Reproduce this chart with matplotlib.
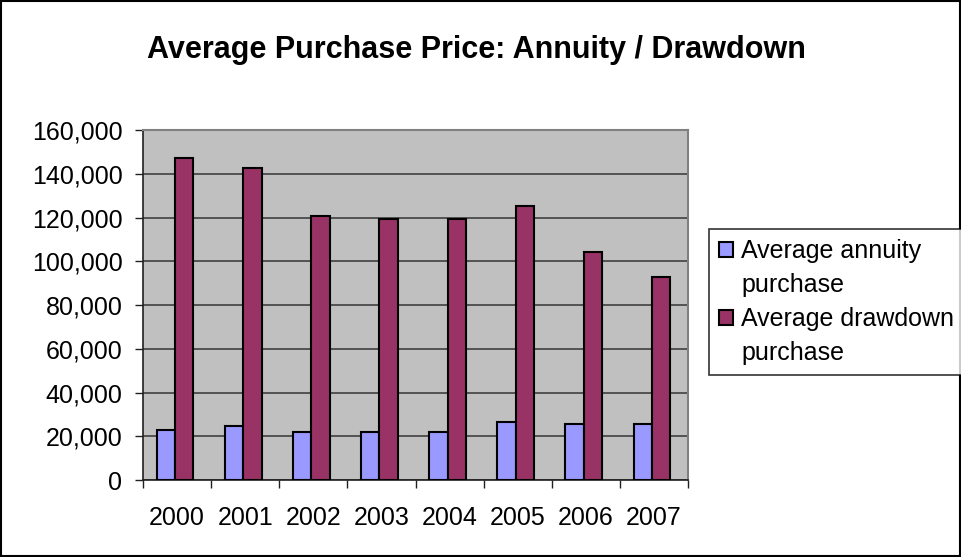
import numpy as np
import matplotlib
matplotlib.use("Agg")
import matplotlib.pyplot as plt
from matplotlib.patches import Rectangle

plt.rcParams['font.family'] = ['Liberation Sans', 'DejaVu Sans']

# data
years = ['2000', '2001', '2002', '2003', '2004', '2005', '2006', '2007']
annuity = [22900, 24800, 21900, 21900, 21900, 26500, 25600, 25600]
drawdown = [147300, 142800, 120700, 119200, 119200, 125400, 104400, 92800]
series_labels = [('Average annuity', 'purchase'), ('Average drawdown', 'purchase')]
y_ticks = [0, 20000, 40000, 60000, 80000, 100000, 120000, 140000, 160000]

fig = plt.figure(figsize=(9.62, 5.57), dpi=100)
ax = fig.add_axes([0.1487, 0.1382, 0.7152 - 0.1487, 0.7666 - 0.1382])

x = np.arange(len(years))
w = 0.27
b1 = ax.bar(x - w / 2 - 0.03, annuity, w, color='#9999FF', edgecolor='black', linewidth=1.5,
            zorder=3)
b2 = ax.bar(x + w / 2 - 0.03, drawdown, w, color='#993366', edgecolor='black', linewidth=1.5,
            zorder=3)

ax.set_facecolor('#C0C0C0')
ax.set_xlim(-0.5, len(years) - 0.5)
ax.set_ylim(0, 160000)
ax.set_yticks(y_ticks)
ax.set_yticklabels([f'{v:,}' for v in y_ticks], fontsize=18)
ax.yaxis.grid(True, color='#404040', linewidth=1.2, zorder=1)
ax.set_axisbelow(True)

# category labels centred, tick marks between categories
ax.set_xticks(x)
ax.set_xticklabels(years, fontsize=18)
ax.tick_params(axis='x', length=0, pad=19)
ax.set_xticks(np.arange(-0.5, len(years)), minor=True)
ax.tick_params(axis='x', which='minor', length=5.5, width=1, direction='out', color='#202020')
ax.tick_params(axis='y', length=5.8, width=1, direction='out', pad=9, color='#202020')

for s in ['top', 'right']:
    ax.spines[s].set_color('#808080')
    ax.spines[s].set_linewidth(1.5)
for s in ['left', 'bottom']:
    ax.spines[s].set_color('#202020')
    ax.spines[s].set_linewidth(1.2)

fig.text(0.495, 0.8964, 'Average Purchase Price: Annuity / Drawdown',
         ha='center', va='baseline', fontsize=22, fontweight='bold')

# legend: second line of each label as a row without a swatch
blank = Rectangle((0, 0), 1, 1, fill=False, edgecolor='none')
handles = [b1, blank, b2, blank]
labels = [series_labels[0][0], series_labels[0][1], series_labels[1][0], series_labels[1][1]]
leg = fig.legend(handles, labels, loc='upper left', bbox_to_anchor=(0.737, 0.4887, 0.27, 0.1),
                 mode='expand', borderaxespad=0,
                 fontsize=18, frameon=True, fancybox=False, edgecolor='black',
                 handlelength=0.56, handleheight=0.56, handletextpad=0.32,
                 labelspacing=0.4, borderpad=0.4)
leg.get_frame().set_linewidth(1.2)

# outer chart border
fig.patches.append(Rectangle((0.001, 0.001), 0.997, 0.997, transform=fig.transFigure,
                             fill=False, edgecolor='black', linewidth=1.5))

fig.savefig('out.png', dpi=100)
